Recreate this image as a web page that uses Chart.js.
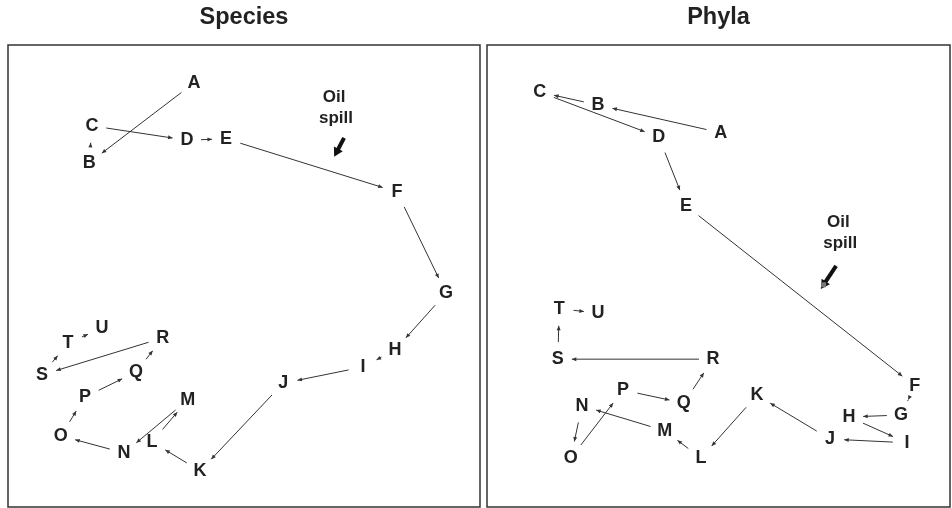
<!DOCTYPE html>
<html>
<head>
<meta charset="utf-8">
<script src="https://cdn.jsdelivr.net/npm/chart.js@4.4.0/dist/chart.umd.min.js"></script>
<style>
    body { margin: 0; background: #fff; }
    #wrap { position: relative; width: 952px; height: 508px; }
    canvas { position: absolute; top: 0; }
</style>
</head>
<body>
<div id="wrap">
    <canvas id="speciesChart" width="484" height="508" style="left:0"></canvas>
    <canvas id="phylaChart" width="468" height="508" style="left:484px"></canvas>
</div>
<script>
// Sampling occasions, in time order
const sampleLabels = ['A', 'B', 'C', 'D', 'E', 'F', 'G', 'H', 'I', 'J', 'K',
                      'L', 'M', 'N', 'O', 'P', 'Q', 'R', 'S', 'T', 'U'];

// Ordination scores (axes scaled 0-100)
const speciesX = [39.4, 17.2, 17.8, 37.9, 46.2, 82.4, 92.8, 82.0, 75.2, 58.3, 40.7,
                  30.5, 38.1, 24.6, 11.2, 16.3, 27.1, 32.8, 7.2, 12.7, 19.9];
const speciesY = [91.8, 74.5, 82.5, 79.4, 79.7, 68.2, 46.3, 34.0, 30.3, 26.8, 7.8,
                  14.1, 23.2, 11.7, 15.4, 23.8, 29.2, 36.6, 28.6, 35.5, 38.7];

const phylaX = [50.5, 24.0, 11.4, 37.1, 43.0, 92.4, 89.4, 78.2, 90.7, 74.1, 58.3,
                46.2, 38.4, 20.5, 18.1, 29.4, 42.5, 48.8, 15.3, 15.6, 24.0];
const phylaY = [81.0, 87.0, 89.8, 80.1, 65.2, 26.2, 19.9, 19.5, 13.9, 14.7, 24.2,
                10.6, 16.5, 21.9, 10.6, 25.3, 22.5, 32.0, 32.0, 42.9, 42.0];

// "Oil spill" annotation: [text, arrow tail, arrow head]
const spillText = ['Oil', 'spill'];
const speciesSpillX = [69.5, 71.2, 69.1];
const speciesSpillY = [86.6, 79.9, 75.8];
const phylaSpillX = [76.3, 75.4, 72.1];
const phylaSpillY = [59.5, 52.2, 47.2];

const FONT = '"Liberation Sans", Arial, Helvetica, sans-serif';
const INK = '#222';

function toPoints(xs, ys) {
    return xs.map((x, i) => ({ x: x, y: ys[i] }));
}

function drawHead(ctx, x, y, ux, uy, len, half) {
    ctx.beginPath();
    ctx.moveTo(x, y);
    ctx.lineTo(x - ux * len - uy * half, y - uy * len + ux * half);
    ctx.lineTo(x - ux * len + uy * half, y - uy * len - ux * half);
    ctx.closePath();
    ctx.fill();
}

// Frame, trajectory arrows, sample letters and the oil spill note
const trajectoryPlugin = {
    id: 'trajectory',
    afterDatasetsDraw(chart, args, opts) {
        const ctx = chart.ctx;
        const sx = chart.scales.x, sy = chart.scales.y;
        const area = chart.chartArea;
        const pts = chart.data.datasets[0].data.map(p => ({
            x: sx.getPixelForValue(p.x),
            y: sy.getPixelForValue(p.y)
        }));

        ctx.save();

        // frame
        ctx.strokeStyle = '#333';
        ctx.lineWidth = 1.5;
        ctx.strokeRect(area.left, area.top, area.right - area.left, area.bottom - area.top);

        // arrows between consecutive samples
        ctx.strokeStyle = '#333';
        ctx.fillStyle = '#333';
        ctx.lineWidth = 1;
        for (let i = 0; i < pts.length - 1; i++) {
            const a = pts[i], b = pts[i + 1];
            const dx = b.x - a.x, dy = b.y - a.y;
            const d = Math.hypot(dx, dy);
            const ux = dx / d, uy = dy / d;
            const gap = 14 + 3 * Math.abs(uy);
            const x1 = a.x + ux * gap, y1 = a.y + uy * gap;
            const x2 = b.x - ux * gap, y2 = b.y - uy * gap;
            ctx.beginPath();
            ctx.moveTo(x1, y1);
            ctx.lineTo(x2, y2);
            ctx.stroke();
            drawHead(ctx, x2, y2, ux, uy, 4.5, 2);
        }

        // letters
        ctx.fillStyle = INK;
        ctx.font = 'bold 18px ' + FONT;
        ctx.textAlign = 'center';
        ctx.textBaseline = 'middle';
        chart.data.datasets[0].data.forEach((p, i) => {
            ctx.fillText(sampleLabels[i], pts[i].x, pts[i].y);
        });

        // oil spill note
        const sp = opts.spill;
        const tx = sx.getPixelForValue(sp.x[0]), ty = sy.getPixelForValue(sp.y[0]);
        ctx.font = 'bold 17px ' + FONT;
        ctx.fillText(spillText[0], tx - 2, ty - 10);
        ctx.fillText(spillText[1], tx, ty + 11);

        const ax = sx.getPixelForValue(sp.x[1]), ay = sy.getPixelForValue(sp.y[1]);
        const bx = sx.getPixelForValue(sp.x[2]), by = sy.getPixelForValue(sp.y[2]);
        const dd = Math.hypot(bx - ax, by - ay);
        const vx = (bx - ax) / dd, vy = (by - ay) / dd;
        ctx.strokeStyle = '#111';
        ctx.fillStyle = '#111';
        ctx.lineWidth = 4;
        ctx.beginPath();
        ctx.moveTo(ax, ay);
        ctx.lineTo(bx - vx * 6, by - vy * 6);
        ctx.stroke();
        drawHead(ctx, bx, by, vx, vy, 9, 5);
        if (sp.marker) {
            ctx.fillStyle = '#777';
            ctx.fillRect(bx + vx * -5 - 2.5, by + vy * -5 - 2.5, 5, 5);
        }

        ctx.restore();
    }
};

function makeChart(id, title, xs, ys, spill, pad) {
    return new Chart(document.getElementById(id), {
        type: 'scatter',
        data: {
            datasets: [{
                data: toPoints(xs, ys),
                pointRadius: 0,
                pointHoverRadius: 0,
                showLine: false
            }]
        },
        options: {
            responsive: false,
            animation: false,
            events: [],
            layout: { padding: pad },
            scales: {
                x: { type: 'linear', min: 0, max: 100, display: false },
                y: { type: 'linear', min: 0, max: 100, display: false }
            },
            plugins: {
                legend: { display: false },
                tooltip: { enabled: false },
                title: {
                    display: true,
                    text: title,
                    color: INK,
                    font: { family: FONT, size: 23.5, weight: 'bold', lineHeight: 1.2 },
                    padding: { top: 3, bottom: 13.8 }
                },
                trajectory: { spill: spill }
            }
        },
        plugins: [trajectoryPlugin]
    });
}

makeChart('speciesChart', 'Species', speciesX, speciesY,
    { x: speciesSpillX, y: speciesSpillY },
    { left: 8, right: 4, top: 0, bottom: 1 });

makeChart('phylaChart', 'Phyla', phylaX, phylaY,
    { x: phylaSpillX, y: phylaSpillY, marker: true },
    { left: 3, right: 2, top: 0, bottom: 1 });
</script>
</body>
</html>
